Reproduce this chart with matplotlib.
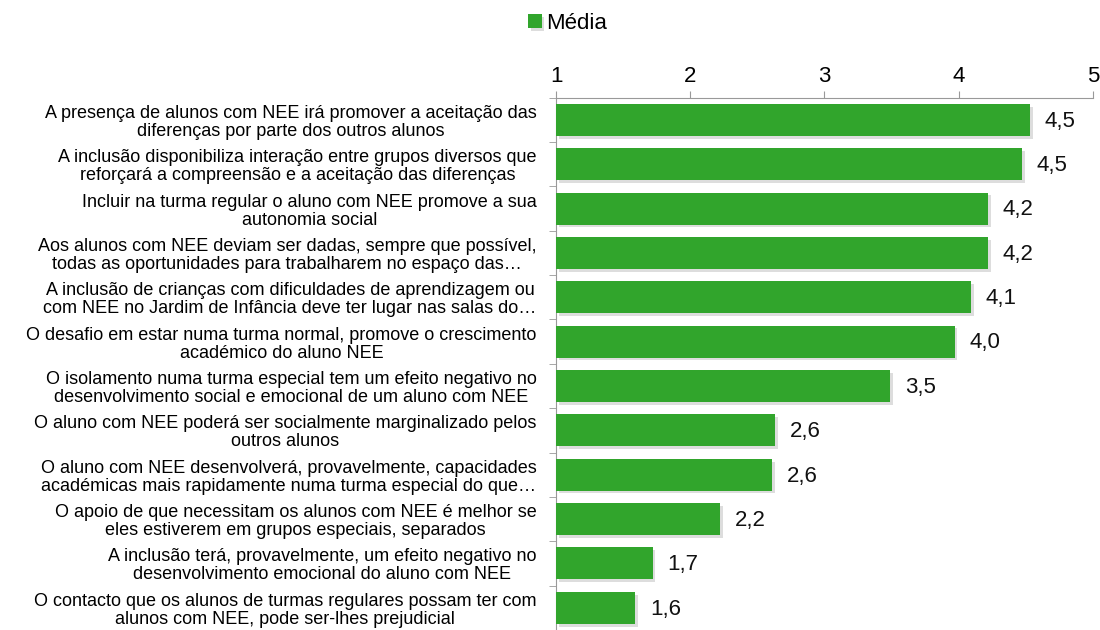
import matplotlib
matplotlib.use("Agg")
import matplotlib.pyplot as plt
import matplotlib.patheffects as pe
import numpy as np

plt.rcParams['font.family'] = ['Liberation Sans', 'DejaVu Sans']

categories = [
    "A presença de alunos com NEE irá promover a aceitação das\ndiferenças por parte dos outros alunos",
    "A inclusão disponibiliza interação entre grupos diversos que\nreforçará a compreensão e a aceitação das diferenças",
    "Incluir na turma regular o aluno com NEE promove a sua\nautonomia social",
    "Aos alunos com NEE deviam ser dadas, sempre que possível,\ntodas as oportunidades para trabalharem no espaço das…",
    "A inclusão de crianças com dificuldades de aprendizagem ou\ncom NEE no Jardim de Infância deve ter lugar nas salas do…",
    "O desafio em estar numa turma normal, promove o crescimento\nacadémico do aluno NEE",
    "O isolamento numa turma especial tem um efeito negativo no\ndesenvolvimento social e emocional de um aluno com NEE",
    "O aluno com NEE poderá ser socialmente marginalizado pelos\noutros alunos",
    "O aluno com NEE desenvolverá, provavelmente, capacidades\nacadémicas mais rapidamente numa turma especial do que…",
    "O apoio de que necessitam os alunos com NEE é melhor se\neles estiverem em grupos especiais, separados",
    "A inclusão terá, provavelmente, um efeito negativo no\ndesenvolvimento emocional do aluno com NEE",
    "O contacto que os alunos de turmas regulares possam ter com\nalunos com NEE, pode ser-lhes prejudicial",
]
media = [4.53, 4.47, 4.22, 4.22, 4.09, 3.97, 3.49, 2.63, 2.61, 2.22, 1.72, 1.59]
series_name = "Média"
xticks = [1, 2, 3, 4, 5]

color = "#31a52c"

fig = plt.figure(figsize=(11, 6.3), dpi=100)
ax = fig.add_axes([0.5055, 0.0, 0.488, 0.845])

y = np.arange(len(categories))
bars = ax.barh(y, np.array(media) - 1, left=1, height=0.72, color=color,
               label=series_name, zorder=3)
for b in bars:
    b.set_path_effects([pe.SimplePatchShadow(offset=(2, -2), alpha=0.2, shadow_rgbFace='#555555'), pe.Normal()])

for yi, v in zip(y, media):
    ax.text(v + 0.11, yi + 0.03, f"{v:.1f}".replace('.', ','), va='center', ha='left', fontsize=16, color='#111111')

ax.set_xlim(1, 5)
ax.set_ylim(len(categories) - 0.5, -0.5)
ax.xaxis.tick_top()
ax.set_xticks(xticks)
ax.set_xticklabels([str(t) for t in xticks], fontsize=16)
ax.tick_params(axis='x', direction='out', length=5, color='#999999', pad=3)

ax.set_yticks(y)
ax.set_yticklabels(categories, fontsize=13, ha='right', multialignment='center', linespacing=1.08)
ax.tick_params(axis='y', length=0, pad=14)
ax.set_yticks(np.arange(len(categories) + 1) - 0.5, minor=True)
ax.tick_params(axis='y', which='minor', length=5, color='#999999', direction='out')

for s in ['right', 'bottom']:
    ax.spines[s].set_visible(False)
for s in ['top', 'left']:
    ax.spines[s].set_color('#999999')

fig.legend(handles=[bars], labels=[series_name], loc='center', bbox_to_anchor=(0.516, 0.963),
           frameon=False, fontsize=16, handlelength=0.6, handleheight=0.6, handletextpad=0.2)

fig.savefig("out.png", dpi=100)
